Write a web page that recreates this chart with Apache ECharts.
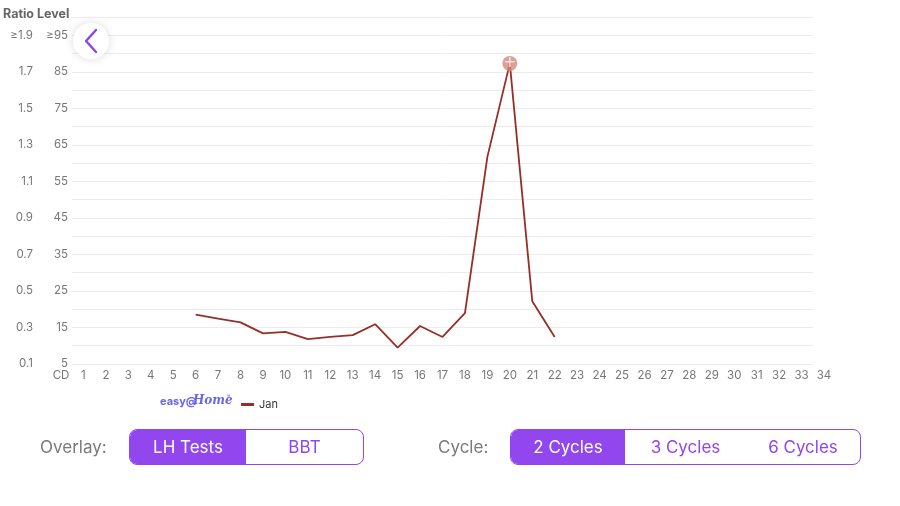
<!DOCTYPE html>
<html>
<head>
<meta charset="utf-8">
<script src="https://cdn.jsdelivr.net/npm/echarts@6/dist/echarts.min.js"></script>
<style>
  html, body { margin:0; padding:0; background:#fff; }
  #wrap { position:relative; width:900px; height:506px; overflow:hidden; font-family: Inter, "Noto Sans", sans-serif; }
  #chart { position:absolute; left:0; top:0; width:900px; height:506px; }
  .lbl { position:absolute; top:436px; font-size:17px; color:#7a7a7a; line-height:22px; }
  .grp { position:absolute; top:429px; height:36px; box-sizing:border-box; border:1.5px solid #9146ee; border-radius:8px; overflow:hidden; display:flex; background:#fff; }
  .seg { height:100%; display:flex; align-items:center; justify-content:center; font-size:17px; color:#9146ee; box-sizing:border-box; }
  .seg.on { background:#9146ee; color:#fff; }
</style>
</head>
<body>
<div id="wrap">
  <div id="chart"></div>
  <div class="lbl" style="left:40px;">Overlay:</div>
  <div class="grp" style="left:129px;width:235px;">
    <div class="seg on" style="width:116px;">LH Tests</div>
    <div class="seg" style="flex:1;">BBT</div>
  </div>
  <div class="lbl" style="left:438px;">Cycle:</div>
  <div class="grp" style="left:510px;width:351px;">
    <div class="seg on" style="width:114px;">2 Cycles</div>
    <div class="seg" style="width:121px;">3 Cycles</div>
    <div class="seg" style="flex:1;">6 Cycles</div>
  </div>
</div>
<script>
// ---- data ----
const cycleDays = [6, 7, 8, 9, 10, 11, 12, 13, 14, 15, 16, 17, 18, 19, 20, 21, 22];
const janLevels = [18.5, 17.4, 16.4, 13.4, 13.8, 11.8, 12.4, 12.9, 15.9, 9.5, 15.4, 12.4, 18.9, 61.7, 87.3, 22.2, 12.4];
const levelTicks = {5:'5', 15:'15', 25:'25', 35:'35', 45:'45', 55:'55', 65:'65', 75:'75', 85:'85', 95:'≥95'};
const ratioTicks = {5:'0.1', 15:'0.3', 25:'0.5', 35:'0.7', 45:'0.9', 55:'1.1', 65:'1.3', 75:'1.5', 85:'1.7', 95:'≥1.9'};
const seriesName = 'Jan';

const lineData = cycleDays.map((d, i) => [d, janLevels[i]]);
let peakIdx = 0;
janLevels.forEach((v, i) => { if (v > janLevels[peakIdx]) peakIdx = i; });
const peakData = [[cycleDays[peakIdx], janLevels[peakIdx]]];

const chart = echarts.init(document.getElementById('chart'), null, { renderer: 'canvas' });
const labelColor = '#777';
const labelFont = 'Inter, "Noto Sans", sans-serif';

chart.setOption({
  animation: false,
  grid: [
    { left: 72, right: 87, top: 17, bottom: 142 },
    { left: 61, right: 76, top: 17, bottom: 142 }
  ],
  xAxis: [
    { gridIndex: 0, type: 'value', min: 0.5, max: 33.5, show: false },
    { gridIndex: 1, type: 'value', min: 0, max: 34, interval: 1,
      axisLine: { show: false }, axisTick: { show: false }, splitLine: { show: false },
      axisLabel: { margin: 6, color: labelColor, fontSize: 11.5, fontFamily: labelFont,
        formatter: v => v === 0 ? 'CD' : String(v) } }
  ],
  yAxis: [
    { gridIndex: 0, type: 'value', min: 5, max: 100, interval: 5, position: 'left',
      axisLine: { show: false }, axisTick: { show: false },
      splitLine: { show: true, lineStyle: { color: '#ececec', width: 1 } },
      axisLabel: { margin: 4, color: labelColor, fontSize: 11.5, fontFamily: labelFont,
        padding: [0, 0, 6, 0],
        formatter: v => levelTicks[v] || '' } },
    { gridIndex: 0, type: 'value', min: 5, max: 100, interval: 5, position: 'left', offset: 35,
      axisLine: { show: false }, axisTick: { show: false }, splitLine: { show: false },
      axisLabel: { margin: 4, color: labelColor, fontSize: 11.5, fontFamily: labelFont,
        padding: [0, 0, 6, 0],
        formatter: v => ratioTicks[v] || '' } },
    { gridIndex: 1, type: 'value', min: 5, max: 100, show: false }
  ],
  legend: {
    left: 236, top: 394, itemWidth: 13, itemHeight: 3, itemGap: 6,
    icon: 'rect',
    data: [seriesName],
    textStyle: { color: '#333', fontSize: 11, fontFamily: labelFont }
  },
  series: [
    { name: seriesName, type: 'line', xAxisIndex: 1, yAxisIndex: 2,
      data: lineData, symbol: 'none',
      lineStyle: { color: '#972f26', width: 1.8 }, itemStyle: { color: '#972f26' } },
    { name: 'peak', type: 'scatter', xAxisIndex: 1, yAxisIndex: 2,
      data: peakData, symbol: 'circle', symbolSize: 15,
      itemStyle: { color: '#d5887c' }, z: 5,
      label: { show: true, position: 'inside', formatter: '+', color: '#fff',
        fontSize: 15, fontWeight: 'normal', fontFamily: 'DejaVu Sans', offset: [0, 0] } }
  ],
  graphic: [
    { type: 'text', left: 3, top: 8,
      style: { text: 'Ratio Level', fill: '#666', font: 'bold 12.5px ' + labelFont } },
    { type: 'circle', shape: { cx: 91, cy: 41, r: 18 },
      style: { fill: '#fff', shadowBlur: 10, shadowColor: 'rgba(0,0,0,0.14)' }, z: 10 },
    { type: 'polyline', shape: { points: [[96, 30], [86, 41], [96, 52]] },
      style: { stroke: '#8e44ec', lineWidth: 2.4, fill: null, lineCap: 'round', lineJoin: 'round' }, z: 11 },
    { type: 'text', left: 160, top: 396,
      style: { text: 'easy@', fill: '#6a66e6', font: 'bold 11px ' + labelFont } },
    { type: 'text', left: 193, top: 395,
      style: { text: 'Home', fill: '#6a66e6', font: 'italic bold 12px "DejaVu Serif", serif' } },
    { type: 'text', left: 227, top: 394,
      style: { text: '®', fill: '#6a66e6', font: '5px ' + labelFont } }
  ]
});
</script>
</body>
</html>
